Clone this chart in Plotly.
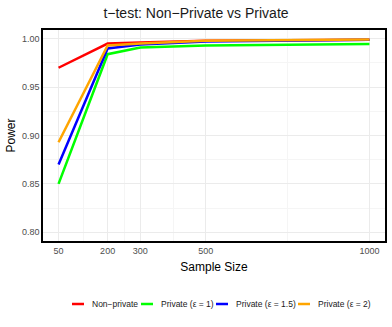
import plotly.graph_objects as go

# sample sizes on the x axis
sample_sizes = [50, 200, 300, 500, 1000]

# power per method
power_nonprivate = [0.970, 0.995, 0.996, 0.998, 0.999]
power_eps1 = [0.850, 0.984, 0.991, 0.993, 0.9945]
power_eps15 = [0.870, 0.990, 0.994, 0.997, 0.999]
power_eps2 = [0.893, 0.993, 0.995, 0.998, 0.9992]

series_names = ["Non\u2212private", "Private (\u03b5 = 1)", "Private (\u03b5 = 1.5)", "Private (\u03b5 = 2)"]
series_values = [power_nonprivate, power_eps1, power_eps15, power_eps2]
colors = ["#FF0000", "#00FF00", "#0000FF", "#FFA500"]

y_ticks = [0.80, 0.85, 0.90, 0.95, 1.00]
y_minor = [0.825, 0.875, 0.925, 0.975]
x_minor = [125, 250, 400, 750]

W, H = 392, 327
L, R, T, B = 43, 7, 30, 86
pw, ph = W - L - R, H - T - B


def px_x(px):
    return (px - L) / pw


def px_y(py):
    return (H - B - py) / ph


fig = go.Figure()
for name, vals, col in zip(series_names, series_values, colors):
    fig.add_trace(go.Scatter(x=sample_sizes, y=vals, mode="lines", name=name,
                             line=dict(color=col, width=2.5), showlegend=False))

# hand-made ggplot-style legend at the bottom (short keys)
key_left = [72, 141, 216, 298]
leg_y = 304
for name, col, kx in zip(series_names, colors, key_left):
    fig.add_shape(type="line", xref="paper", yref="paper",
                  x0=px_x(kx), x1=px_x(kx + 12), y0=px_y(leg_y), y1=px_y(leg_y),
                  line=dict(color=col, width=2.5))
    fig.add_annotation(text=name, xref="paper", yref="paper", x=px_x(kx + 18), y=px_y(leg_y),
                       xanchor="left", yanchor="middle", showarrow=False,
                       font=dict(size=8.5, color="#1a1a1a"))

fig.update_layout(
    width=W, height=H,
    margin=dict(l=L, r=R, t=T, b=B),
    plot_bgcolor="white", paper_bgcolor="white",
    font=dict(family="Liberation Sans, Arial, sans-serif", color="#000000"),
    title=dict(text="t\u2212test: Non\u2212Private vs Private", x=0.5, xanchor="center",
               y=1 - 13 / H, yanchor="middle", font=dict(size=14, color="#1a1a1a")),
    showlegend=False,
)

fig.update_xaxes(
    range=[2.5, 1047.5], tickvals=sample_sizes, ticktext=[str(v) for v in sample_sizes],
    tickfont=dict(size=9, color="#4d4d4d"), ticks="", automargin=False,
    title=dict(text="Sample Size", font=dict(size=12, color="#000000"), standoff=8),
    showgrid=True, gridcolor="#ebebeb", gridwidth=1,
    minor=dict(tickvals=x_minor, showgrid=True, gridcolor="#f5f5f5", gridwidth=1),
    showline=True, mirror=True, linecolor="#000000", linewidth=1.5, zeroline=False,
)
fig.update_yaxes(
    range=[0.791, 1.009], tickvals=y_ticks, tickformat=".2f",
    tickfont=dict(size=9, color="#4d4d4d"), ticks="", automargin=False,
    title=dict(text="Power", font=dict(size=12, color="#000000"), standoff=4),
    showgrid=True, gridcolor="#ebebeb", gridwidth=1,
    minor=dict(tickvals=y_minor, showgrid=True, gridcolor="#f5f5f5", gridwidth=1),
    showline=True, mirror=True, linecolor="#000000", linewidth=1.5, zeroline=False,
)

# drop the browser's default body margin so the figure sits at the window origin
fig.write_html("out.html", config={"displayModeBar": False},
               post_script="document.body.style.margin='0';")
